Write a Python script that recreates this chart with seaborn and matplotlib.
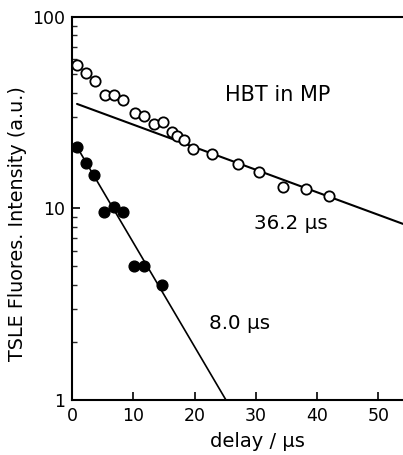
import numpy as np
import pandas as pd
import matplotlib
matplotlib.use("Agg")
import matplotlib.pyplot as plt
import seaborn as sns
from matplotlib.ticker import LogLocator, FixedLocator, FixedFormatter, NullFormatter

# datos
open_t = [0.8, 2.3, 3.7, 5.4, 6.8, 8.3, 10.3, 11.7, 13.4, 14.8, 16.3, 17.1,
          18.2, 19.7, 22.8, 27.0, 30.5, 34.4, 38.1, 42.0]
open_i = [56.1, 51.0, 46.3, 39.1, 39.1, 36.9, 31.5, 30.4, 27.6, 28.3, 25.1, 23.9,
          22.8, 20.5, 19.3, 17.1, 15.5, 12.9, 12.6, 11.6]
filled_t = [0.8, 2.3, 3.6, 5.2, 6.8, 8.3, 10.1, 11.7, 14.7]
filled_i = [20.9, 17.3, 15.0, 9.6, 10.2, 9.6, 5.0, 5.0, 4.0]

# extremos de las rectas de ajuste
fit_slow_t = [0.8, 54.0]
fit_slow_i = [35.1, 8.3]
fit_fast_t = [0.8, 25.1]
fit_fast_i = [20.9, 1.0]

xticks = [0, 10, 20, 30, 40, 50]
yticks = [1, 10, 100]
ytick_labels = ["1", "10", "100"]

sns.set_theme(style="ticks")
plt.rcParams['font.family'] = ['DejaVu Sans']
plt.rcParams['text.color'] = 'black'
plt.rcParams['axes.labelcolor'] = 'black'

fig = plt.figure(figsize=(4.03, 4.55), dpi=100)
ax = fig.add_axes([0.179, 0.121, 0.821, 0.842])

sns.lineplot(x=fit_slow_t, y=fit_slow_i, ax=ax, color='black', linewidth=1.5)
sns.lineplot(x=fit_fast_t, y=fit_fast_i, ax=ax, color='black', linewidth=1.2)
sns.scatterplot(x=open_t, y=open_i, ax=ax, marker='o', s=55,
                facecolor='white', edgecolor='black', linewidth=1.3, zorder=3)
sns.scatterplot(x=filled_t, y=filled_i, ax=ax, marker='o', s=60,
                color='black', edgecolor='black', linewidth=1.0, zorder=3)

ax.set_yscale('log')
ax.set_xlim(0, 54)
ax.set_ylim(1, 100)
ax.yaxis.set_major_locator(FixedLocator(yticks))
ax.yaxis.set_major_formatter(FixedFormatter(ytick_labels))
ax.yaxis.set_minor_locator(LogLocator(base=10, subs=np.arange(2, 10)))
ax.yaxis.set_minor_formatter(NullFormatter())
ax.set_xticks(xticks)

ax.tick_params(axis='both', which='major', direction='in', length=6, width=1.2,
               labelsize=12.5, colors='black', pad=5)
ax.tick_params(axis='y', which='minor', direction='in', length=3.5, width=1.0)
ax.tick_params(top=False, right=False, which='both')

for side in ['left', 'bottom', 'top']:
    ax.spines[side].set_linewidth(1.5)
    ax.spines[side].set_color('black')
ax.spines['right'].set_visible(False)

ax.set_xlabel('delay / μs', fontsize=14)
ax.set_ylabel('TSLE Fluores. Intensity (a.u.)', fontsize=13.8)
ax.xaxis.set_label_coords(0.559, -0.083)
ax.yaxis.set_label_coords(-0.135, 0.46)

ax.text(0.62, 0.795, 'HBT in MP', transform=ax.transAxes, fontsize=15,
        ha='center', va='center')
ax.text(0.66, 0.46, '36.2 μs', transform=ax.transAxes, fontsize=14.3,
        ha='center', va='center')
ax.text(0.505, 0.2, '8.0 μs', transform=ax.transAxes, fontsize=14.3,
        ha='center', va='center')

fig.savefig('out.png', dpi=100, facecolor='white')
plt.close(fig)
